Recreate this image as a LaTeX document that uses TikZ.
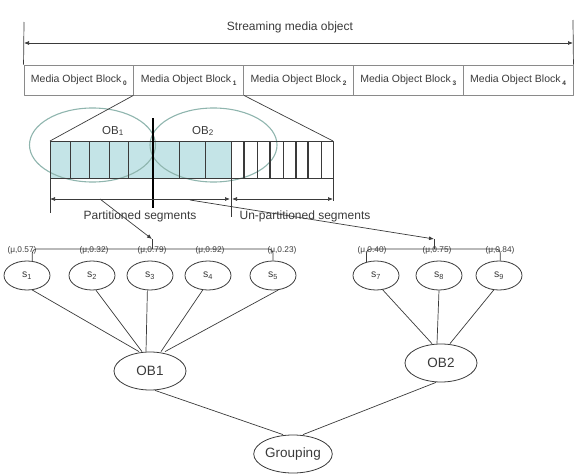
\documentclass[tikz,border=0pt]{standalone}
\usepackage{fontspec}
\setmainfont{Liberation Sans}
\usetikzlibrary{shapes.geometric,arrows.meta,calc}
\definecolor{ln}{HTML}{3A3A3A}
\definecolor{ov}{HTML}{8FB5AE}
\definecolor{seg}{HTML}{C4E4E7}
\definecolor{bk}{HTML}{8A8A8A}
\begin{document}
\begin{tikzpicture}[x=1pt,y=-1pt,line join=round,
  blk/.style={draw=bk,line width=0.9pt,minimum width=109.8pt,minimum height=30pt,inner sep=0pt,font=\fontsize{10.5}{12}\selectfont,text=ln},
  snode/.style={ellipse,draw=ln,line width=0.8pt,minimum width=46pt,minimum height=29pt,inner sep=0pt,font=\fontsize{10.5}{12}\selectfont,text=ln},
  obnode/.style={ellipse,draw=ln,line width=0.8pt,minimum width=72pt,minimum height=38pt,inner sep=0pt,font=\fontsize{13.5}{15}\selectfont,text=ln},
  mulbl/.style={font=\fontsize{8.3}{9}\selectfont,inner sep=0pt,text=ln},
  lbl/.style={font=\fontsize{12}{14}\selectfont,text=ln,inner sep=0pt},
  edge/.style={draw=ln,line width=0.7pt},
  tip/.style={-{Latex[length=5pt,width=4pt]}},
  dtip/.style={{Latex[length=5pt,width=4pt]}-{Latex[length=5pt,width=4pt]}},
]
\useasboundingbox (0,0) rectangle (574,474);
\newcommand{\blksub}[1]{\,\raisebox{-2.5pt}{\fontsize{6.5}{7}\selectfont\bfseries #1}}
% title and span arrow
\node[lbl] (title) at (290,27) {Streaming media object};
\node[blk] (b0) at (78.9,80) {Media Object Block\blksub{0}};
\node[blk] (b1) at (188.7,80) {Media Object Block\blksub{1}};
\node[blk] (b2) at (298.5,80) {Media Object Block\blksub{2}};
\node[blk] (b3) at (408.3,80) {Media Object Block\blksub{3}};
\node[blk] (b4) at (518.1,80) {Media Object Block\blksub{4}};
\coordinate (SLt) at (24,22);
\coordinate (SRt) at (573,20);
\coordinate (SL) at (24,43);
\coordinate (SR) at (573,43);
\draw[edge] (SLt) -- (b0.north west);
\draw[edge] (SRt) -- (b4.north east);
\draw[edge,dtip] (SL) -- (SR);
% segment bar
\coordinate (barTL) at (50,141);
\coordinate (barTR) at (333,141);
\fill[seg] (50,141) rectangle (231,178);
\draw[ov,line width=1.1pt] (92.5,145) ellipse [x radius=63pt,y radius=37pt];
\draw[ov,line width=1.1pt] (213.5,145) ellipse [x radius=63.5pt,y radius=37pt];
\draw[ln,line width=0.7pt] (50,141) rectangle (333,178);
\foreach \x in {70,89,109,128,179,205,231,257,283,321}
  \draw[ln,line width=0.7pt] (\x,141) -- (\x,178);
\foreach \x in {244,270,296,308}
  \draw[ln,line width=1.1pt] (\x,141) -- (\x,178);
\draw[edge] (b1.south west) -- (barTL);
\draw[edge] (b1.south east) -- (barTR);
\draw[black,line width=2pt] (153,118) -- (153,208);
\node[font=\fontsize{11.5}{12}\selectfont,text=ln] (ob1lbl) at (113,131) {OB\textsubscript{1}};
\node[font=\fontsize{11.5}{12}\selectfont,text=ln] (ob2lbl) at (203,131) {OB\textsubscript{2}};
% dimension lines
\coordinate (e1t) at (50,178); \coordinate (e1b) at (50,213);
\coordinate (e2t) at (231,178); \coordinate (e2b) at (231,217);
\coordinate (e3t) at (333,178); \coordinate (e3b) at (333,201);
\draw[edge] (e1t) -- (e1b);
\draw[edge] (e2t) -- (e2b);
\draw[edge] (e3t) -- (e3b);
\coordinate (d1l) at (50,199); \coordinate (d1r) at (230,199);
\coordinate (d2l) at (232,199); \coordinate (d2r) at (333,199);
\draw[edge,dtip] (d1l) -- (d1r);
\draw[edge,dtip] (d2l) -- (d2r);
\node[lbl] (plbl) at (140,216) {Partitioned segments};
\node[lbl] (ulbl) at (305,216) {Un-partitioned segments};
% segment nodes
\node[snode] (s1) at (27,275.5) {s\textsubscript{1}};
\node[snode] (s2) at (92,275.5) {s\textsubscript{2}};
\node[snode] (s3) at (150,275.5) {s\textsubscript{3}};
\node[snode] (s4) at (208,275.5) {s\textsubscript{4}};
\node[snode] (s5) at (273,275.5) {s\textsubscript{5}};
\node[snode] (s7) at (376,275.5) {s\textsubscript{7}};
\node[snode] (s8) at (439,275.5) {s\textsubscript{8}};
\node[snode] (s9) at (499,275.5) {s\textsubscript{9}};
% brackets and labels
\coordinate (br1) at (152,249);
\coordinate (br2) at (434,249);
\coordinate (st1) at (152,239);
\coordinate (st2) at (434,239);
\draw[edge,rounded corners=4pt] (s1.70) |- (br1) -| (s5.north);
\draw[edge,rounded corners=4pt] (s7.125) |- (br2) -| (s9.85);
\draw[edge] (br1) -- (st1);
\draw[edge] (br2) -- (st2);
\node[mulbl] (m1) at (22,250) {(μ,0.57)};
\node[mulbl] (m2) at (94,250) {(μ,0.32)};
\node[mulbl] (m3) at (152,250) {(μ,0.79)};
\node[mulbl] (m4) at (210,250) {(μ,0.92)};
\node[mulbl] (m5) at (282,250) {(μ,0.23)};
\node[mulbl] (m7) at (372,250) {(μ,0.40)};
\node[mulbl] (m8) at (437,250) {(μ,0.75)};
\node[mulbl] (m9) at (500,250) {(μ,0.84)};
% long arrows
\coordinate (a1s) at (100,199);
\coordinate (a2s) at (190,200);
\draw[edge,tip] (a1s) -- (st1);
\draw[edge,tip] (a2s) -- (st2);
% object blocks and grouping
\node[obnode] (OB1) at (150,371) {OB1};
\node[obnode] (OB2) at (441,363) {OB2};
\node[obnode] (G) at (293,454) {Grouping};
\draw[edge] (s1.-70) -- ($(OB1.north)+(-11,0)$);
\draw[edge] (s2.-75) -- ($(OB1.north)+(-8,0)$);
\draw[edge] (s3.-100) -- ($(OB1.north)+(-4,0)$);
\draw[edge] (s4.-110) -- ($(OB1.north)+(11,0)$);
\draw[edge] (s5.-70) -- ($(OB1.north)+(15,0)$);
\draw[edge] (s7.-65) -- ($(OB2.north)+(-9,0)$);
\draw[edge] (s8.south) -- ($(OB2.north)+(-4,0)$);
\draw[edge] (s9.-110) -- ($(OB2.north)+(9,0)$);
\draw[edge] ($(OB1.south)+(5,0)$) -- ($(G.north)+(-10,0)$);
\draw[edge] ($(OB2.south)+(-5,0)$) -- ($(G.north)+(10,0)$);
\end{tikzpicture}
\end{document}
